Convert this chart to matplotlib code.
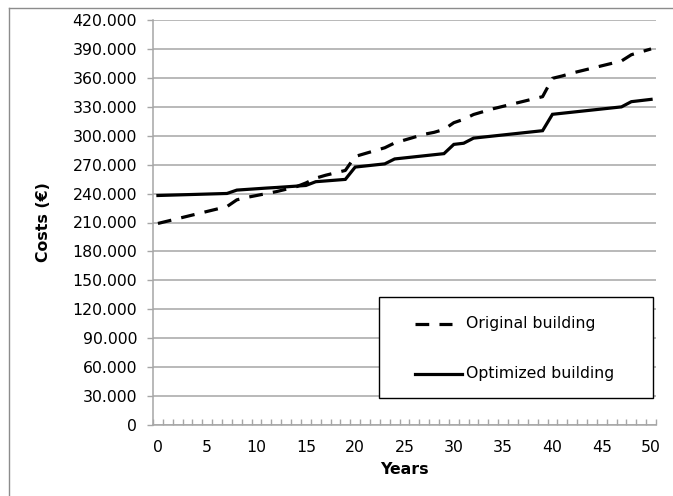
import matplotlib
matplotlib.use("Agg")
import matplotlib.pyplot as plt
from matplotlib.lines import Line2D
from matplotlib.patches import Rectangle
from matplotlib.ticker import FuncFormatter, MultipleLocator

years = list(range(0, 51))
original_building = [
    209000, 211500, 214000, 216500, 219000, 221500, 224000, 226500, 233500, 236000,
    238000, 240000, 242000, 244500, 247000, 251000, 256000, 259000, 261500, 264000,
    278500, 281500, 284500, 287500, 292500, 295500, 298500, 301500, 303500, 306500,
    313500, 317000, 322000, 325000, 328000, 330500, 333000, 335500, 338000, 340500,
    359500, 362000, 365000, 367500, 370000, 372500, 375000, 377500, 384000, 387000,
    390000,
]
optimized_building = [
    238000, 238300, 238600, 238900, 239200, 239500, 239800, 240100, 243600, 244300,
    245000, 245700, 246300, 247000, 247700, 248400, 252300, 253100, 253900, 254700,
    267500, 268600, 269700, 270800, 275900, 277000, 278100, 279200, 280300, 281400,
    291000, 292200, 297500, 298600, 299700, 300800, 301900, 303000, 304100, 305200,
    322200, 323300, 324400, 325500, 326600, 327700, 328800, 329900, 335300, 336500,
    337700,
]
series_labels = ["Original building", "Optimized building"]
y_ticks = list(range(0, 420001, 30000))
x_tick_labels = list(range(0, 51, 5))

W, H = 673, 496
fig = plt.figure(figsize=(W / 100, H / 100), dpi=100)
plt.rcParams['font.family'] = ['DejaVu Sans']
FS = 11.3

def fx(px):
    return px / W

def fy(py):
    return 1 - py / H

ax = fig.add_axes([fx(153), fy(425), (656 - 153) / W, (425 - 20) / H])

grid_c = '#a6a6a6'
ax.set_xlim(-0.5, 50.5)
ax.set_ylim(0, 420000)
ax.set_yticks(y_ticks)
ax.yaxis.set_major_formatter(FuncFormatter(lambda v, p: f"{int(v):,}".replace(",", ".")))
ax.yaxis.grid(True, color=grid_c, linewidth=1.1)
ax.set_axisbelow(True)

# x: labels at categories, tick marks between categories
ax.set_xticks(x_tick_labels)
ax.tick_params(axis='x', which='major', length=0, pad=10.5, labelsize=FS)
ax.xaxis.set_minor_locator(MultipleLocator(1, offset=0.5))
ax.tick_params(axis='x', which='minor', length=4, direction='in', color=grid_c, width=1)
ax.tick_params(axis='y', which='major', length=4.5, direction='out', color=grid_c, width=1,
               labelsize=FS, pad=7)

for s in ['top', 'right']:
    ax.spines[s].set_visible(False)
for s in ['left', 'bottom']:
    ax.spines[s].set_color(grid_c)
    ax.spines[s].set_linewidth(1.1)

lw = 2.3
dash = (0, (4.3, 3.2))
ax.plot(years, original_building, color='black', linewidth=lw, linestyle=dash,
        solid_joinstyle='miter', dash_capstyle='butt')
ax.plot(years, optimized_building, color='black', linewidth=lw, solid_joinstyle='miter')

ax.set_xlabel('Years', fontsize=FS, fontweight='bold', labelpad=5.5)
ax.set_ylabel('Costs (€)', fontsize=FS, fontweight='bold', labelpad=15)

# manual legend
fig.add_artist(Rectangle((fx(379), fy(398)), (653 - 379) / W, (398 - 297) / H,
                         transform=fig.transFigure, facecolor='white', edgecolor='black',
                         linewidth=1.0))
fig.add_artist(Line2D([fx(415), fx(452)], [fy(323.5), fy(323.5)], transform=fig.transFigure,
                      color='black', linewidth=lw, linestyle=dash, dash_capstyle='butt'))
fig.add_artist(Line2D([fx(415), fx(462)], [fy(373.5), fy(373.5)], transform=fig.transFigure,
                      color='black', linewidth=lw))
fig.text(fx(466), fy(323.5), series_labels[0], fontsize=FS, va='center', ha='left')
fig.text(fx(466), fy(373.5), series_labels[1], fontsize=FS, va='center', ha='left')

# outer chart border
border_c = '#8c8c8c'
fig.add_artist(Line2D([fx(9), fx(673)], [fy(7.5), fy(7.5)], transform=fig.transFigure,
                      color=border_c, linewidth=1))
fig.add_artist(Line2D([fx(9), fx(9)], [fy(7.5), fy(496)], transform=fig.transFigure,
                      color=border_c, linewidth=1))

fig.savefig('out.png', dpi=100)
